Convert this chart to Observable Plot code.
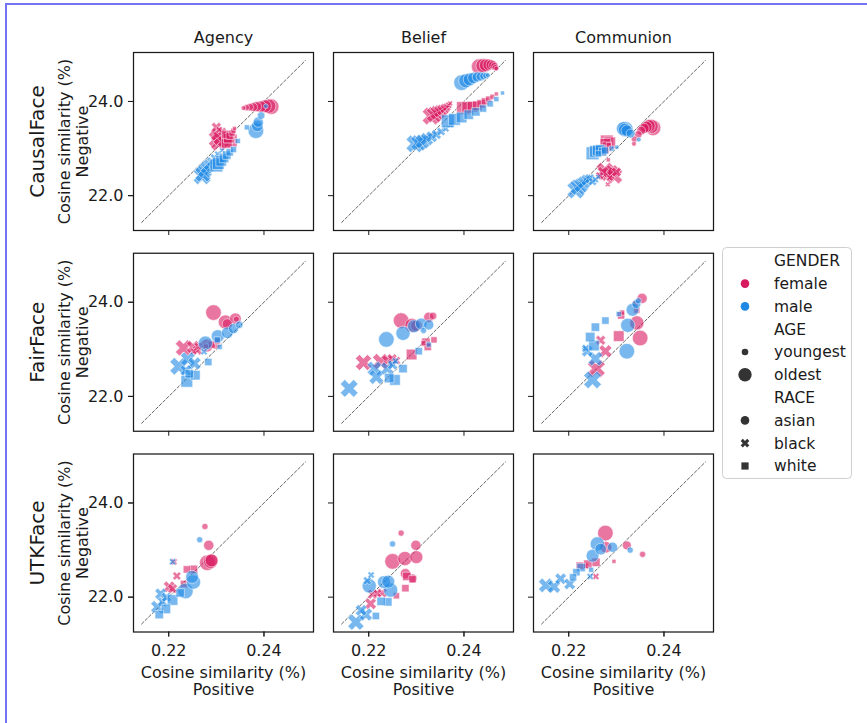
<!DOCTYPE html>
<html><head><meta charset="utf-8">
<script src="https://cdn.jsdelivr.net/npm/d3@7"></script>
<script src="https://cdn.jsdelivr.net/npm/@observablehq/plot@0.6"></script>
<style>
html,body{margin:0;padding:0;background:#fff;}
#wrap{position:relative;width:867px;height:723px;overflow:hidden;font-family:"DejaVu Sans",sans-serif;background:#fff;}
#border{position:absolute;left:5px;top:3px;width:900px;height:800px;border-left:2px solid #7474f2;border-top:2px solid #7474f2;}
#chart{position:absolute;left:0;top:0;}
#legend{position:absolute;left:722px;top:247px;}
</style></head><body>
<div id="wrap"><div id="border"></div><div id="chart"></div><div id="legend"></div></div>
<script>
// ---- categories / ticks ----
const rows = ["CausalFace", "FairFace", "UTKFace"];
const cols = ["Agency", "Belief", "Communion"];
const genders = ["female", "male"];
const races = ["asian", "black", "white"];
const genderColors = ["#D81B60", "#1E88E5"];
const xTicks = [0.22, 0.24];
const yTicks = [22, 24];
const diagEnds = [21.43, 24.87];
const xLabel = "Cosine similarity (%)\nPositive";
const yLabel = "Cosine similarity (%)\nNegative";

// ---- data: [gender, race, ageIndex(0=youngest..8=oldest), positive, negative] ----
const causalAgency = [
  ["f","a",0,0.2357,23.86],["f","a",1,0.2363,23.87],["f","a",2,0.2370,23.88],["f","a",3,0.2377,23.88],["f","a",4,0.2384,23.89],["f","a",5,0.2393,23.89],["f","a",6,0.2402,23.90],["f","a",7,0.2410,23.90],["f","a",8,0.2415,23.89],
  ["f","b",3,0.2300,23.45],["f","b",1,0.2306,23.40],["f","b",5,0.2302,23.30],["f","b",2,0.2312,23.36],["f","b",6,0.2308,23.22],["f","b",4,0.2314,23.15],["f","b",7,0.2305,23.12],["f","b",0,0.2318,23.26],["f","b",8,0.2302,23.20],
  ["f","w",0,0.2338,23.43],["f","w",2,0.2333,23.33],["f","w",3,0.2328,23.27],["f","w",5,0.2325,23.22],["f","w",8,0.2330,23.17],["f","w",6,0.2322,23.12],["f","w",4,0.2320,23.30],["f","w",7,0.2326,23.24],["f","w",1,0.2336,23.38],
  ["m","a",0,0.2404,23.90],["m","a",2,0.2394,23.70],["m","a",4,0.2388,23.56],["m","a",5,0.2386,23.48],["m","a",8,0.2383,23.38],
  ["m","b",0,0.2312,22.96],["m","b",1,0.2303,22.88],["m","b",2,0.2296,22.80],["m","b",3,0.2290,22.72],["m","b",4,0.2285,22.66],["m","b",5,0.2280,22.60],["m","b",6,0.2276,22.53],["m","b",7,0.2272,22.46],["m","b",8,0.2270,22.42],
  ["m","w",1,0.2364,23.45],["m","w",1,0.2345,23.16],["m","w",2,0.2336,22.98],["m","w",3,0.2328,22.92],["m","w",4,0.2322,22.86],["m","w",5,0.2316,22.80],["m","w",6,0.2310,22.74],["m","w",7,0.2304,22.68],["m","w",8,0.2300,22.64]
];
const causalBelief = [
  ["f","a",8,0.2432,24.74],["f","a",7,0.2440,24.76],["f","a",6,0.2446,24.77],["f","a",5,0.2452,24.78],["f","a",4,0.2457,24.78],["f","a",3,0.2461,24.77],["f","a",2,0.2464,24.75],["f","a",1,0.2466,24.72],["f","a",0,0.2468,24.70],
  ["f","b",8,0.2331,23.69],["f","b",7,0.2338,23.72],["f","b",6,0.2344,23.76],["f","b",5,0.2350,23.79],["f","b",4,0.2355,23.82],["f","b",3,0.2360,23.85],["f","b",2,0.2364,23.88],["f","b",1,0.2368,23.92],["f","b",0,0.2371,23.96],
  ["f","w",8,0.2398,23.86],["f","w",7,0.2408,23.87],["f","w",6,0.2418,23.89],["f","w",5,0.2428,23.91],["f","w",4,0.2436,23.95],["f","w",3,0.2444,24.00],["f","w",2,0.2452,24.05],["f","w",1,0.2460,24.10],["f","w",0,0.2468,24.16],
  ["m","a",8,0.2395,24.40],["m","a",7,0.2404,24.44],["m","a",6,0.2412,24.47],["m","a",5,0.2420,24.50],["m","a",4,0.2428,24.52],["m","a",3,0.2435,24.53],["m","a",2,0.2441,24.54],["m","a",1,0.2446,24.55],["m","a",0,0.2450,24.56],
  ["m","b",8,0.2297,23.10],["m","b",7,0.2305,23.12],["m","b",6,0.2313,23.15],["m","b",5,0.2322,23.20],["m","b",4,0.2332,23.25],["m","b",3,0.2342,23.30],["m","b",2,0.2352,23.36],["m","b",1,0.2362,23.42],["m","b",0,0.2372,23.50],
  ["m","w",8,0.2366,23.58],["m","w",7,0.2380,23.62],["m","w",6,0.2395,23.66],["m","w",5,0.2410,23.72],["m","w",4,0.2425,23.78],["m","w",3,0.2440,23.85],["m","w",2,0.2455,23.95],["m","w",1,0.2468,24.05],["m","w",0,0.2481,24.18]
];
const causalCommunion = [
  ["f","a",0,0.2337,23.10],["f","a",1,0.2338,23.20],["f","a",2,0.2346,23.30],["f","a",3,0.2352,23.38],["f","a",4,0.2358,23.43],["f","a",5,0.2363,23.46],["f","a",6,0.2368,23.48],["f","a",7,0.2373,23.47],["f","a",8,0.2377,23.44],
  ["f","b",0,0.2282,22.24],["f","b",2,0.2265,22.42],["f","b",4,0.2272,22.50],["f","b",6,0.2282,22.46],["f","b",5,0.2290,22.52],["f","b",7,0.2296,22.42],["f","b",3,0.2300,22.50],["f","b",1,0.2286,22.38],["f","b",8,0.2276,22.52],
  ["f","w",0,0.2283,22.76],["f","w",2,0.2272,22.92],["f","w",4,0.2276,22.98],["f","w",5,0.2280,23.04],["f","w",6,0.2277,23.10],["f","w",1,0.2284,23.07],["f","w",7,0.2286,23.12],["f","w",8,0.2280,23.15],
  ["m","a",0,0.2347,23.19],["m","a",3,0.2330,23.32],["m","a",5,0.2322,23.38],["m","a",6,0.2318,23.40],["m","a",7,0.2315,23.42],["m","a",8,0.2319,23.41],
  ["m","b",8,0.2215,22.12],["m","b",7,0.2220,22.18],["m","b",6,0.2226,22.22],["m","b",5,0.2232,22.28],["m","b",4,0.2238,22.33],["m","b",3,0.2244,22.36],["m","b",2,0.2250,22.30],["m","b",1,0.2256,22.34],["m","b",0,0.2262,22.40],
  ["m","w",0,0.2301,23.03],["m","w",8,0.2250,22.90],["m","w",7,0.2256,22.94],["m","w",6,0.2261,22.96],["m","w",5,0.2266,22.98],["m","w",4,0.2271,22.93],["m","w",3,0.2276,22.96],["m","w",2,0.2262,22.89],["m","w",1,0.2290,23.00]
];
const fairAgency = [
  ["f","a",8,0.2294,23.78],["f","a",7,0.2319,23.58],["f","a",4,0.2323,23.54],["f","a",5,0.2340,23.65],["f","a",1,0.2342,23.64],["f","a",6,0.2280,23.08],["f","a",3,0.2298,23.10],
  ["f","b",7,0.2231,23.03],["f","b",5,0.2251,23.05],["f","b",3,0.2260,22.98],["f","b",1,0.2252,22.96],["f","b",2,0.2262,23.06],
  ["f","w",3,0.2290,23.10],["f","w",2,0.2302,23.18],["f","w",1,0.2278,23.06],
  ["m","a",7,0.2277,23.13],["m","a",6,0.2303,23.28],["m","a",5,0.2323,23.35],["m","a",4,0.2336,23.44],["m","a",2,0.2348,23.52],
  ["m","b",8,0.2221,22.64],["m","b",6,0.2240,22.79],["m","b",5,0.2254,22.70],["m","b",4,0.2236,22.55],["m","b",1,0.2274,22.95],
  ["m","w",7,0.2238,22.32],["m","w",5,0.2256,22.45],["m","w",3,0.2283,22.73],["m","w",1,0.2307,23.05],["m","w",4,0.2243,22.48],["m","w",2,0.2302,23.20]
];
const fairBelief = [
  ["f","a",8,0.2268,23.61],["f","a",7,0.2291,23.51],["f","a",4,0.2326,23.68],["f","a",2,0.2335,23.71],["f","a",5,0.2300,23.50],
  ["f","b",7,0.2189,22.72],["f","b",7,0.2225,22.74],["f","b",4,0.2239,22.76],["f","b",3,0.2249,22.80],["f","b",2,0.2258,22.76],
  ["f","w",6,0.2290,22.89],["f","w",4,0.2320,23.15],["f","w",3,0.2324,23.05],["f","w",2,0.2337,23.20],["f","w",1,0.2315,23.13],
  ["m","a",8,0.2237,23.21],["m","a",7,0.2272,23.34],["m","a",6,0.2295,23.49],["m","a",5,0.2310,23.54],["m","a",4,0.2326,23.52],["m","a",1,0.2315,23.40],
  ["m","b",8,0.2159,22.17],["m","b",6,0.2212,22.59],["m","b",6,0.2216,22.41],["m","b",5,0.2239,22.59],["m","b",1,0.2256,22.75],["m","b",3,0.2250,22.67],
  ["m","w",3,0.2305,22.96],["m","w",4,0.2272,22.59],["m","w",6,0.2255,22.35],["m","w",5,0.2243,22.39],["m","w",1,0.2326,23.10]
];
const fairCommunion = [
  ["f","a",4,0.2354,24.08],["f","a",7,0.2343,23.56],["f","a",8,0.2350,23.24],["f","a",1,0.2340,23.97],
  ["f","b",3,0.2267,23.19],["f","b",5,0.2277,22.96],["f","b",8,0.2258,22.59],
  ["f","w",6,0.2305,23.28],["f","w",3,0.2310,23.72],["f","w",1,0.2312,23.78],["f","w",2,0.2343,23.83],
  ["m","a",1,0.2346,24.03],["m","a",6,0.2334,23.84],["m","a",7,0.2324,23.51],["m","a",8,0.2322,22.96],["m","a",3,0.2342,23.96],
  ["m","b",4,0.2239,22.96],["m","b",6,0.2256,22.80],["m","b",8,0.2250,22.35],["m","b",2,0.2236,23.02],
  ["m","w",3,0.2277,23.61],["m","w",4,0.2256,23.47],["m","w",5,0.2245,23.26],["m","w",6,0.2253,23.08],["m","w",1,0.2305,23.75]
];
const utkAgency = [
  ["f","a",1,0.2276,23.50],["f","a",4,0.2284,23.10],["f","a",7,0.2288,22.76],["f","a",8,0.2281,22.73],["f","a",6,0.2290,22.78],
  ["f","b",2,0.2217,22.45],["f","b",4,0.2201,22.22],["f","b",1,0.2211,22.75],["f","b",3,0.2208,22.18],
  ["f","w",4,0.2252,22.59],["f","w",3,0.2238,22.59],["f","w",3,0.2232,22.28],
  ["m","a",1,0.2265,23.22],["m","a",7,0.2252,22.32],["m","a",6,0.2249,22.43],["m","a",8,0.2235,22.13],
  ["m","b",4,0.2183,22.07],["m","b",5,0.2176,21.79],["m","b",3,0.2187,21.90],["m","b",1,0.2208,22.75],["m","b",3,0.2195,22.00],
  ["m","w",4,0.2224,22.09],["m","w",6,0.2208,21.94],["m","w",5,0.2194,21.75],["m","w",4,0.2180,21.63]
];
const utkBelief = [
  ["f","a",1,0.2268,23.36],["f","a",4,0.2299,23.10],["f","a",8,0.2250,22.76],["f","a",7,0.2276,22.82],["f","a",6,0.2300,22.85],["f","a",4,0.2277,22.50],["f","a",3,0.2292,22.40],
  ["f","b",3,0.2208,22.06],["f","b",4,0.2204,21.86],["f","b",3,0.2228,22.09],["f","b",2,0.2218,22.08],
  ["f","w",4,0.2280,22.44],["f","w",3,0.2292,22.38],["f","w",3,0.2277,22.19],["f","w",2,0.2258,22.03],
  ["m","a",1,0.2250,23.13],["m","a",7,0.2201,22.24],["m","a",6,0.2232,22.32],["m","a",6,0.2241,22.33],["m","a",7,0.2246,22.15],
  ["m","b",7,0.2173,21.47],["m","b",5,0.2194,21.63],["m","b",4,0.2184,21.72],["m","b",1,0.2205,22.47],["m","b",2,0.2197,22.35],
  ["m","w",4,0.2240,21.90],["m","w",4,0.2226,21.91],["m","w",3,0.2215,21.60]
];
const utkCommunion = [
  ["f","a",8,0.2277,23.36],["f","a",3,0.2322,23.10],["f","a",1,0.2355,22.91],["f","a",5,0.2278,23.06],
  ["f","b",1,0.2257,22.44],["f","b",1,0.2235,22.66],
  ["f","w",4,0.2257,22.74],["f","w",4,0.2240,22.70],["f","w",3,0.2223,22.67],["f","w",0,0.2295,22.76],
  ["m","a",1,0.2329,23.00],["m","a",7,0.2260,23.13],["m","a",6,0.2250,22.88],["m","a",5,0.2267,23.02],["m","a",4,0.2292,23.06],
  ["m","b",6,0.2152,22.25],["m","b",5,0.2169,22.22],["m","b",4,0.2183,22.39],["m","b",4,0.2202,22.28],["m","b",1,0.2245,22.44],
  ["m","w",4,0.2226,22.63],["m","w",3,0.2216,22.53],["m","w",3,0.2209,22.42],["m","w",1,0.2247,22.58]
];

const panels = [
  {row: rows[0], col: cols[0], pts: causalAgency},
  {row: rows[0], col: cols[1], pts: causalBelief},
  {row: rows[0], col: cols[2], pts: causalCommunion},
  {row: rows[1], col: cols[0], pts: fairAgency},
  {row: rows[1], col: cols[1], pts: fairBelief},
  {row: rows[1], col: cols[2], pts: fairCommunion},
  {row: rows[2], col: cols[0], pts: utkAgency},
  {row: rows[2], col: cols[1], pts: utkBelief},
  {row: rows[2], col: cols[2], pts: utkCommunion}
];
const codes = {f: "female", m: "male", a: "asian", b: "black", w: "white"};
const points = panels.flatMap(p => p.pts.map(([g, r, age, x, y]) =>
  ({row: p.row, col: p.col, gender: codes[g], race: codes[r], age, x, y})));

// ---- symbols (matplotlib-like filled X and square) ----
const symbolXFilled = {
  draw(ctx, size) {
    const r = Math.sqrt(size / Math.PI) * 1.2, w = r / 3, c = Math.SQRT1_2;
    const pts = [[-w,-r],[w,-r],[w,-w],[r,-w],[r,w],[w,w],[w,r],[-w,r],[-w,w],[-r,w],[-r,-w],[-w,-w]];
    pts.forEach(([x, y], i) => { const X = (x - y) * c, Y = (x + y) * c; i ? ctx.lineTo(X, Y) : ctx.moveTo(X, Y); });
    ctx.closePath();
  }
};
const symbolSq = {
  draw(ctx, size) {
    const h = Math.sqrt(size / Math.PI) * 0.82;
    ctx.moveTo(-h, -h); ctx.lineTo(h, -h); ctx.lineTo(h, h); ctx.lineTo(-h, h); ctx.closePath();
  }
};
const raceSymbols = {asian: "circle", black: symbolXFilled, white: symbolSq};

const dotMarks = [];
genders.forEach((g, gi) => races.forEach(race => {
  dotMarks.push(Plot.dot(points.filter(d => d.gender === g && d.race === race), {
    x: "x", y: "y", fx: "col", fy: "row", r: "age",
    symbol: raceSymbols[race], fill: genderColors[gi], fillOpacity: 0.6,
    stroke: "white", strokeOpacity: 0.85, strokeWidth: 0.6
  }));
}));

const topLabels = cols.map(c => ({col: c, row: rows[0], t: c}));
const sideLabels = rows.map(r => ({col: cols[0], row: r, t: r}));
const bottomLabels = cols.map(c => ({col: c, row: rows[2], t: xLabel}));
const leftLabels = rows.map(r => ({col: cols[0], row: r, t: yLabel}));
const lbl = {textAnchor: "middle", lineAnchor: "middle", fill: "#1a1a1a"};

const chart = Plot.plot({
  width: 867, height: 723,
  marginLeft: 133, marginRight: 154, marginTop: 52, marginBottom: 91.5,
  style: {fontFamily: "DejaVu Sans, sans-serif", fontSize: "16px", color: "#1a1a1a", background: "transparent"},
  fx: {domain: cols, paddingInner: 0.1, paddingOuter: 0, round: false, axis: null},
  fy: {domain: rows, paddingInner: 0.1133, paddingOuter: 0, round: false, axis: null},
  x: {domain: [0.2126, 0.2504]},
  y: {domain: [21.26, 25.04]},
  r: {type: "linear", domain: [0, 8], range: [2.4, 7.8]},
  marks: [
    Plot.line(diagEnds, {x: d => d / 100, y: d => d, stroke: "#555", strokeWidth: 0.9, strokeDasharray: "3,2"}),
    ...dotMarks,
    Plot.frame({stroke: "#1a1a1a", strokeWidth: 1.25}),
    Plot.axisX({ticks: xTicks, tickFormat: () => "", facetAnchor: null, label: null, tickSize: 5}),
    Plot.axisY({ticks: yTicks, tickFormat: () => "", facetAnchor: null, label: null, tickSize: 5}),
    Plot.axisX({ticks: xTicks, tickFormat: d => d.toFixed(2), label: null, tickSize: 5, tickPadding: 8, fontSize: 16}),
    Plot.axisY({ticks: yTicks, tickFormat: d => d.toFixed(1), label: null, tickSize: 5, tickPadding: 5, fontSize: 16}),
    Plot.text(topLabels, {fx: "col", fy: "row", text: "t", frameAnchor: "top", dy: -15, fontSize: 16, ...lbl}),
    Plot.text(sideLabels, {fx: "col", fy: "row", text: "t", frameAnchor: "left", dx: -96, rotate: -90, fontSize: 20, ...lbl}),
    Plot.text(leftLabels, {fx: "col", fy: "row", text: "t", frameAnchor: "left", dx: -60, rotate: -90, fontSize: 16, lineHeight: 1.12, ...lbl}),
    Plot.text(bottomLabels, {fx: "col", fy: "row", text: "t", frameAnchor: "bottom", dy: 49, fontSize: 16, lineHeight: 1.1, ...lbl})
  ]
});
document.getElementById("chart").appendChild(chart);

// ---- legend ----
const legendItems = [
  {label: "GENDER"},
  {label: "female", kind: "circle", r: 4.3, color: genderColors[0]},
  {label: "male", kind: "circle", r: 4.3, color: genderColors[1]},
  {label: "AGE"},
  {label: "youngest", kind: "circle", r: 3.3, color: "#333"},
  {label: "oldest", kind: "circle", r: 6.7, color: "#333"},
  {label: "RACE"},
  {label: "asian", kind: "circle", r: 4.3, color: "#333"},
  {label: "black", kind: "x", r: 4.6, color: "#333"},
  {label: "white", kind: "square", r: 3.6, color: "#333"}
];
const ns = "http://www.w3.org/2000/svg";
const lg = document.createElementNS(ns, "svg");
lg.setAttribute("width", 132); lg.setAttribute("height", 233);
lg.style.fontFamily = "DejaVu Sans, sans-serif";
let html = `<rect x="0.5" y="0.5" width="129" height="231" rx="4" fill="white" stroke="#cfcfcf"/>`;
legendItems.forEach((it, i) => {
  const y = 13.8 + i * 22.8;
  html += `<text x="52" y="${y}" dy="0.35em" font-size="15.5" fill="#1a1a1a">${it.label}</text>`;
  if (it.kind === "circle") html += `<circle cx="23" cy="${y}" r="${it.r}" fill="${it.color}"/>`;
  if (it.kind === "square") html += `<rect x="${23 - it.r}" y="${y - it.r}" width="${2 * it.r}" height="${2 * it.r}" fill="${it.color}"/>`;
  if (it.kind === "x") {
    const p = d3.path(); p.moveTo(0, 0);
    symbolXFilled.draw(p, Math.PI * (it.r / 1.2) ** 2);
    html += `<path transform="translate(23,${y})" d="${p.toString().replace(/^M0,0/, "")}" fill="${it.color}"/>`;
  }
});
lg.innerHTML = html;
document.getElementById("legend").appendChild(lg);
</script></body></html>
